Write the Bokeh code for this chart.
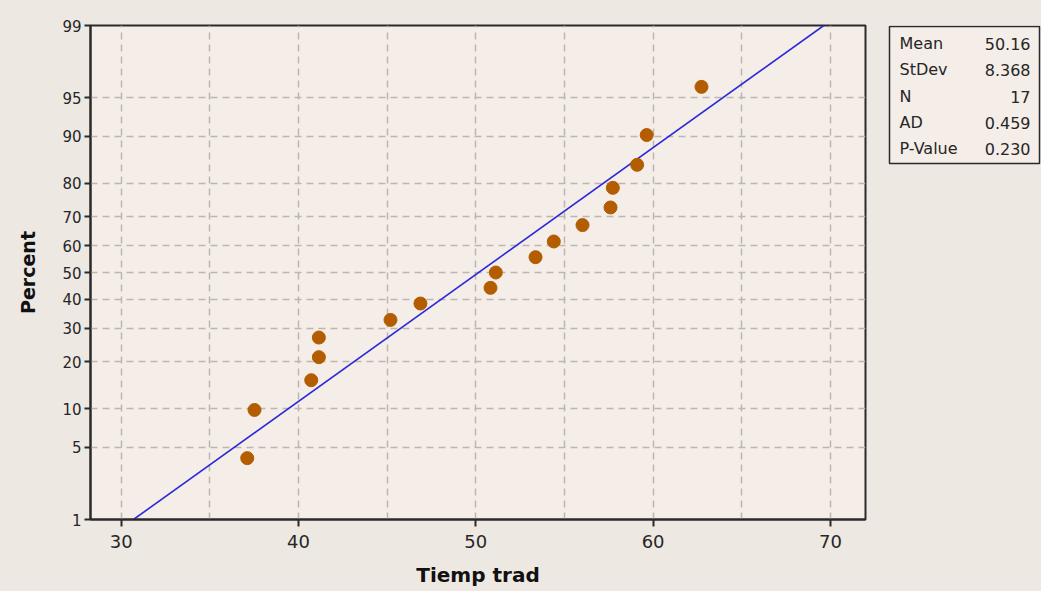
from statistics import NormalDist
from bokeh.plotting import figure
from bokeh.layouts import row
from bokeh.models import Range1d, FixedTicker, Label, ColumnDataSource
from bokeh.embed import file_html
from bokeh.resources import INLINE

# ---- data ----
tiemp = [37.11, 37.52, 40.72, 41.15, 41.15, 45.19, 46.88, 50.83, 51.13,
         53.37, 54.40, 56.02, 57.60, 57.73, 59.10, 59.64, 62.73]
percent = [4.02, 9.77, 15.52, 21.26, 27.01, 32.76, 38.51, 44.25, 50.0,
           55.75, 61.49, 67.24, 72.99, 78.74, 84.48, 90.23, 95.98]
mean_val = 50.16
stdev_val = 8.368
line_pct = [1, 99]
y_tick_pct = [1, 5, 10, 20, 30, 40, 50, 60, 70, 80, 90, 95, 99]
x_ticks = [30, 40, 50, 60, 70]
x_grid = [30, 35, 40, 45, 50, 55, 60, 65, 70]
stat_names = ["Mean", "StDev", "N", "AD", "P-Value"]
stat_values = ["50.16", "8.368", "17", "0.459", "0.230"]

nd = NormalDist()
def z(p):
    return nd.inv_cdf(p / 100.0)

X0, X1 = 28.27, 71.98
Y0, Y1 = z(1), z(99)

W, H = 1041, 591
FL, FT, FR, FB = 90, 25, 865, 519
PW = FR + 2          # width of main figure
BG = "#eee8e2"
PLOT_BG = "#f4ede8"
INK = "#2a2a2a"

p = figure(width=PW, height=H, output_backend="svg", toolbar_location=None,
           x_range=Range1d(X0, X1), y_range=Range1d(Y0, Y1),
           min_border_left=FL, min_border_right=PW - FR, min_border_top=FT,
           min_border_bottom=H - FB)
p.background_fill_color = PLOT_BG
p.border_fill_color = None
p.outline_line_color = INK
p.outline_line_width = 2

# grids
p.xgrid.ticker = FixedTicker(ticks=x_grid)
p.ygrid.ticker = FixedTicker(ticks=[z(v) for v in y_tick_pct[1:-1]])
for g in (p.xgrid, p.ygrid):
    g.grid_line_color = "#bcb6b0"
    g.grid_line_dash = "7 5"
    g.grid_line_width = 1.5

# axes
p.xaxis.ticker = FixedTicker(ticks=x_ticks)
p.yaxis.ticker = FixedTicker(ticks=[z(v) for v in y_tick_pct])
p.yaxis.major_label_overrides = {z(v): str(v) for v in y_tick_pct}
for ax in (p.xaxis, p.yaxis):
    ax.axis_line_color = INK
    ax.axis_line_width = 2
    ax.major_tick_line_color = INK
    ax.major_tick_line_width = 2
    ax.major_tick_in = 0
    ax.minor_tick_line_color = None
    ax.major_label_text_font = "DejaVu Sans"
    ax.major_label_text_color = "#262626"
    ax.axis_label_text_font = "DejaVu Sans"
    ax.axis_label_text_font_style = "bold"
    ax.axis_label_text_color = "#111111"
p.xaxis.major_tick_out = 7
p.yaxis.major_tick_out = 6
p.xaxis.major_label_text_font_size = "18px"
p.yaxis.major_label_text_font_size = "15px"
p.xaxis.major_label_standoff = 8
p.yaxis.major_label_standoff = 3
p.xaxis.axis_label = "Tiemp trad"
p.yaxis.axis_label = "Percent"
p.xaxis.axis_label_text_font_size = "20px"
p.yaxis.axis_label_text_font_size = "19px"
p.xaxis.axis_label_standoff = 12
p.yaxis.axis_label_standoff = 20

# fitted line
line_x = [mean_val + stdev_val * z(v) for v in line_pct]
line_y = [z(v) for v in line_pct]
p.line(line_x, line_y, line_color="#2a2ad8", line_width=1.6)

# points
src = ColumnDataSource(dict(x=tiemp, y=[z(v) for v in percent]))
p.scatter("x", "y", source=src, size=13, fill_color="#b35c00",
          line_color="#b35c00", marker="circle")

# ---- stats panel (pixel coordinate figure, frame aligned with main frame) ----
s = figure(width=W - PW, height=H, output_backend="svg", toolbar_location=None,
           x_range=Range1d(PW, W), y_range=Range1d(FB, FT),
           x_axis_type=None, y_axis_type=None,
           min_border_left=0, min_border_right=0, min_border_top=FT,
           min_border_bottom=H - FB)
s.background_fill_color = None
s.border_fill_color = None
s.outline_line_color = None
s.xgrid.visible = False
s.ygrid.visible = False
s.quad(left=[889], right=[1039], top=[26], bottom=[163],
       fill_color=PLOT_BG, line_color=INK, line_width=1.5)
rows_y = [43, 69, 96, 122, 148]
for name, val, ry in zip(stat_names, stat_values, rows_y):
    s.add_layout(Label(x=899, y=ry, text=name, text_baseline="middle",
                       text_align="left", text_font="DejaVu Sans",
                       text_font_size="16px", text_color="#262626"))
    s.add_layout(Label(x=1030, y=ry, text=val, text_baseline="middle",
                       text_align="right", text_font="DejaVu Sans",
                       text_font_size="16px", text_color="#262626"))

layout = row(p, s, spacing=0, styles={"background-color": BG})
open("out.html", "w").write(file_html(layout, INLINE))
